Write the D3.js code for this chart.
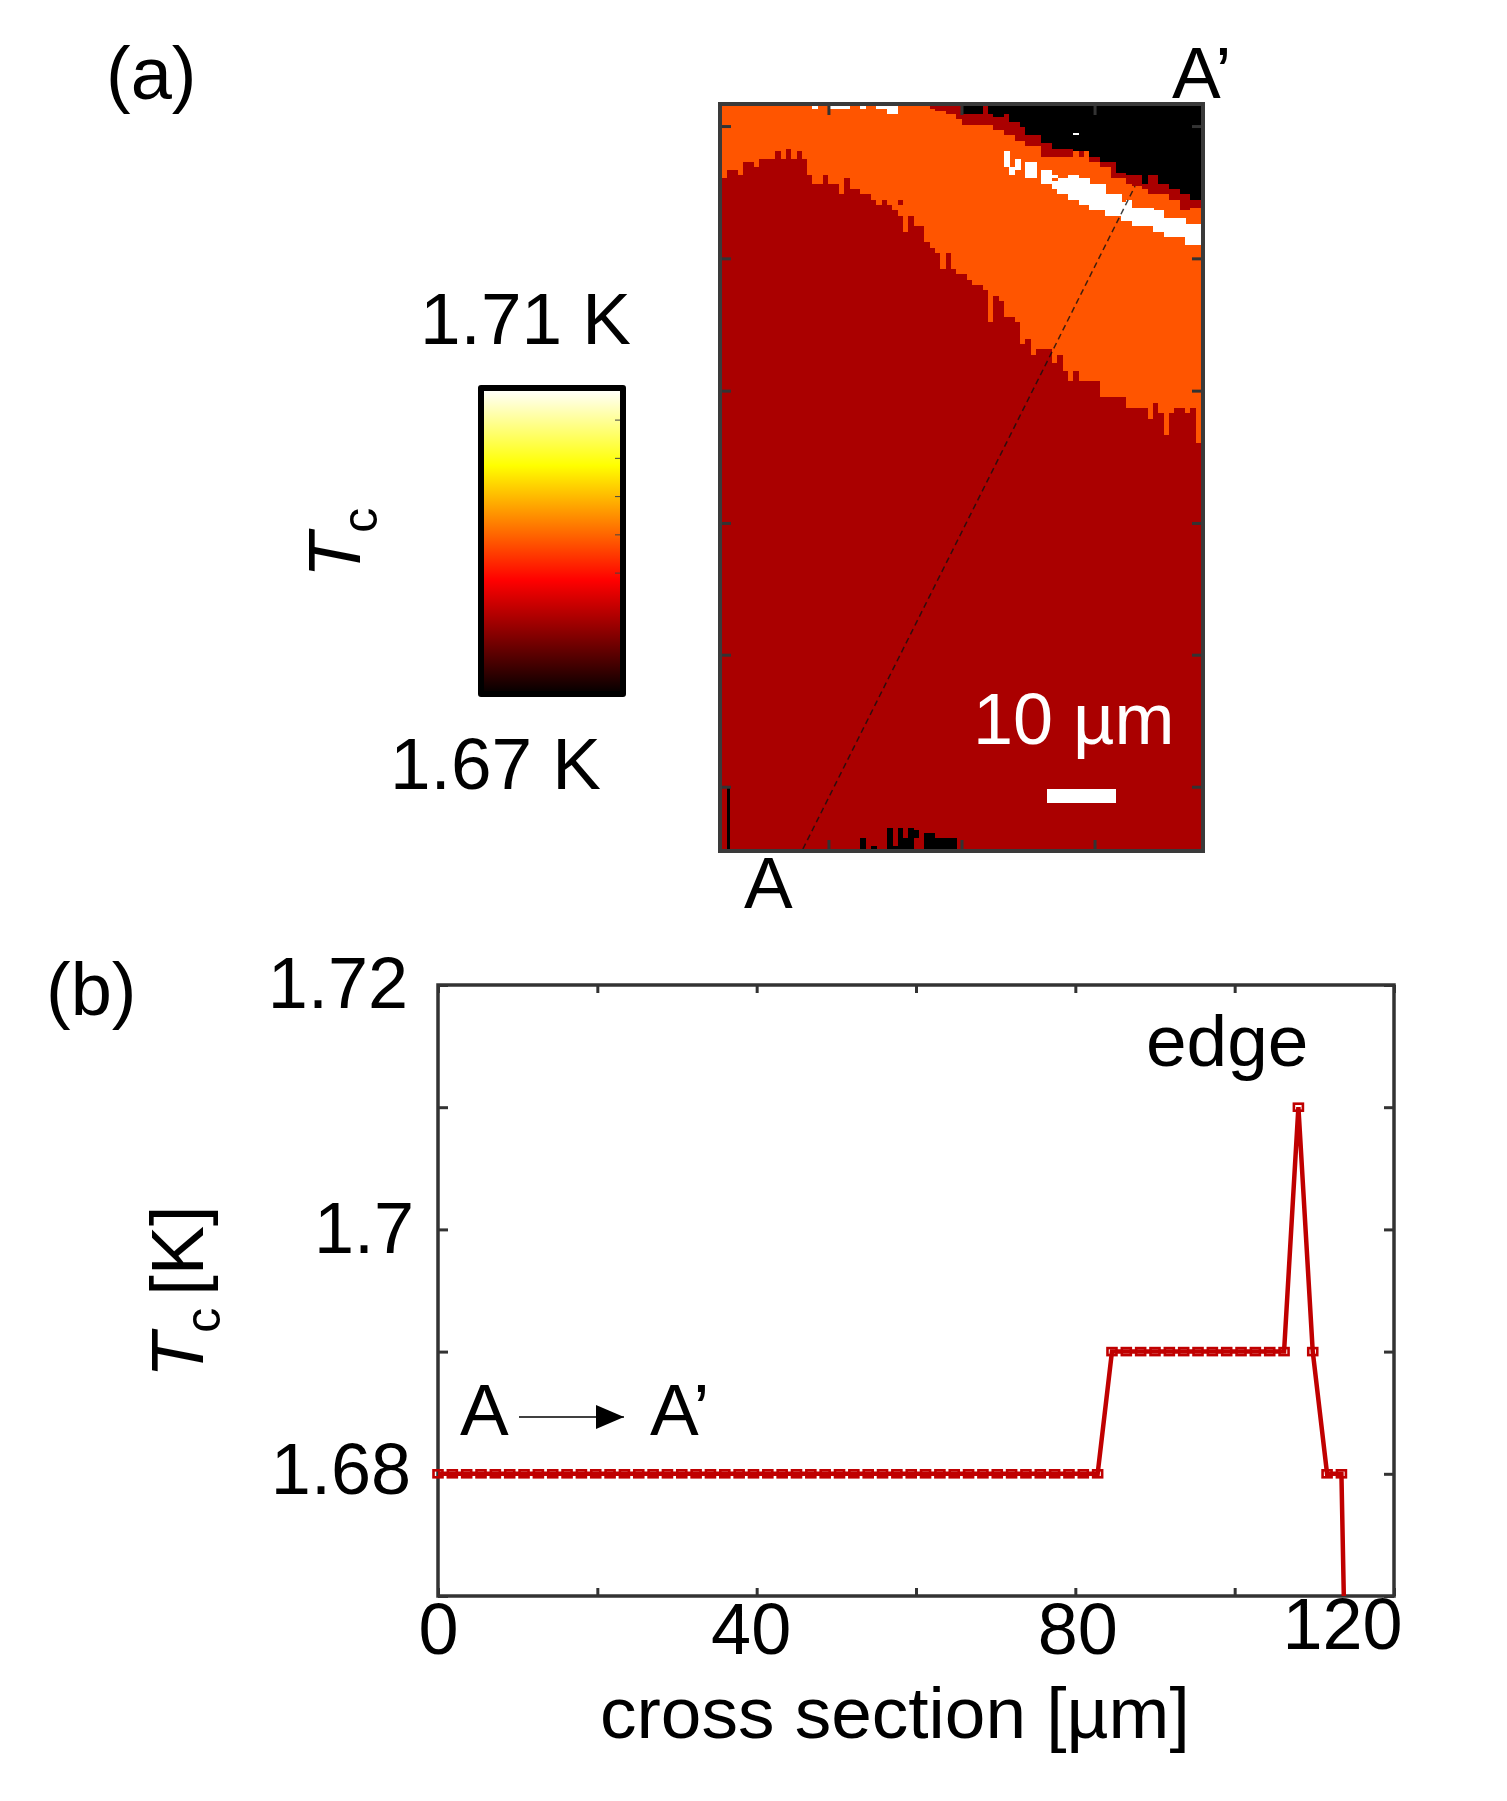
<!DOCTYPE html>
<html>
<head>
<meta charset="utf-8">
<script src="https://cdnjs.cloudflare.com/ajax/libs/d3/7.8.5/d3.min.js"></script>
<style>
    body { margin: 0; background: #fff; }
    text { font-family: "Liberation Sans", Arial, sans-serif; fill: #000; }
    .axis path { display: none; }
    .axis line { stroke: #333; stroke-width: 3; }
    .axis text { font-size: 72px; }
</style>
</head>
<body>
<div id="chart"></div>
<script>
// (a) Tc map: one value per map column, in map rows counted from the top
var mapColumns = 90, mapRows = 278;
var blackEnd = [0,0,0,0,0,0,0,0,0,0,0,0,0,0,0,0,0,0,0,0,0,0,0,0,0,0,0,0,0,0,0,0,0,0,0,0,0,0,0,0,0,0,0,0,0,
    3,3,3,3,0,3,4,4,3,6,6,8,11,11,11,14,14,16,16,16,16,17,17,17,19,19,21,21,21,25,25,26,26,26,29,26,26,29,29,31,31,33,33,35,35];
var darkEnd = [0,0,0,0,0,0,0,0,0,0,0,0,0,0,0,0,0,0,0,0,0,0,0,0,0,0,0,0,0,0,0,0,0,0,0,0,0,0,0,
    1,2,2,3,3,5,7,7,7,7,7,7,9,9,11,11,13,13,15,15,15,19,19,19,19,19,19,17,19,17,21,21,23,23,27,27,27,29,30,30,31,33,33,33,33,35,35,39,39,38,38];
var orangeEnd = [27,24,24,26,21,21,23,20,20,20,
    17,20,16,20,17,20,26,29,29,26,
    29,29,33,27,31,31,33,33,35,37,
    35,37,39,41,47,41,45,45,51,53,
    55,61,55,61,63,63,65,67,67,69,
    81,71,73,79,79,81,89,87,93,91,
    91,91,96,93,99,103,99,103,103,103,
    103,109,109,109,109,109,113,113,113,113,
    117,111,115,123,115,113,113,115,113,126];
// white band along the edge
var whiteCols = [53,54,55,57,58,60,61,62,63,64,65,66,67,68,69,70,71,72,73,74,75,76,77,78,79,80,81,82,83,84,85,86,87,88,89];
var whiteTop = [17,23,20,21,21,24,24,26,27,27,26,26,27,27,29,29,29,33,33,33,36,35,38,38,38,38,39,39,42,42,42,42,44,44,44];
var whiteBottom = [23,26,24,27,27,29,29,31,33,33,35,35,37,37,39,39,39,41,41,41,43,43,45,45,45,45,47,47,49,49,49,49,52,52,52];
// small patches: column, first row, last row, Tc
var patchCols = [17,20,21,22,23,26,29,30,31,32,33,62,66,
    26,28,31,32,33,34,35,36,38,39,40,41,42,43];
var patchTop = [0,0,0,0,0,0,0,0,0,0,35,27,10,
    274,277,270,277,270,274,270,271,272,272,274,274,274,274];
var patchBottom = [1,1,1,1,1,1,1,1,3,3,37,28,11,
    278,278,278,278,278,278,278,274,278,278,278,278,278,278];
var patchTc = [1.71,1.71,1.71,1.71,1.71,1.71,1.71,1.71,1.71,1.71,1.68,1.69,1.71,
    1.67,1.67,1.67,1.67,1.67,1.67,1.67,1.67,1.67,1.67,1.67,1.67,1.67,1.67];
var stripCol = [0.9, 1.55], stripRow = [255, 278];
var crossColumn = [15.2, 77.6], crossRow = [278, 30];
var mapRowTicks = [7.5, 57, 106.5, 156, 205.3, 254.7], mapColTicks = [20, 45, 70];

// colour bar
var tcStops = [1.67, 1.685, 1.70, 1.71];
var tcColors = ["#000000", "#ff0000", "#ffff00", "#ffffff"];
var barTicks = [1.686, 1.691, 1.696, 1.701, 1.706];

// (b) cross section
var distance = [0,1.8,3.6,5.4,7.2,9,10.8,12.6,14.4,16.2,18,19.8,21.6,23.4,25.2,27,28.8,30.6,32.4,34.2,36,37.8,39.6,41.4,43.2,45,46.8,48.6,50.4,52.2,54,55.8,57.6,59.4,61.2,63,64.8,66.6,68.4,70.2,72,73.8,75.6,77.4,79.2,81,82.8,
    84.6,86.4,88.2,90,91.8,93.6,95.4,97.2,99,100.8,102.6,104.4,106.2,108,109.8,111.6,113.4,115.2];
var tc = [1.68,1.68,1.68,1.68,1.68,1.68,1.68,1.68,1.68,1.68,1.68,1.68,1.68,1.68,1.68,1.68,1.68,1.68,1.68,1.68,1.68,1.68,1.68,1.68,1.68,1.68,1.68,1.68,1.68,1.68,1.68,1.68,1.68,1.68,1.68,1.68,1.68,1.68,1.68,1.68,1.68,1.68,1.68,1.68,1.68,1.68,1.68,
    1.69,1.69,1.69,1.69,1.69,1.69,1.69,1.69,1.69,1.69,1.69,1.69,1.69,1.71,1.69,1.68,1.68,1.62];
var xTicksMinor = [0, 20, 40, 60, 80, 100, 120];
var xTickLabels = { 0: "0", 40: "40", 80: "80", 120: "120" };
var xTickShift = { 0: 0, 40: -6, 80: 2, 120: -52 };
var xTickLift = { 0: 0, 40: 0, 80: 0, 120: -5 };
var yTicksAll = [1.67, 1.68, 1.69, 1.70, 1.71, 1.72];
var yTickLabels = { "1.68": "1.68", "1.7": "1.7", "1.72": "1.72" };
var yTickShift = { "1.68": 3, "1.7": 6, "1.72": 0 };
var yTickLift = { "1.68": -3, "1.7": 0, "1.72": -1 };

var width = 1507, height = 1801;
var map = { left: 722, right: 1201, top: 106, bottom: 849 };
var bar = { left: 482, right: 623, top: 389, bottom: 695 };
var plot = { left: 438, right: 1394, top: 985, bottom: 1596 };
var pxPerMicron = 6.9;

var svg = d3.select("#chart")
    .append("svg")
        .attr("width", width)
        .attr("height", height)
        .style("display", "block");

var defs = svg.append("defs");

var hot = d3.scaleLinear().domain(tcStops).range(tcColors);

/* ---------- (a) map ---------- */
var mapX = d3.scaleLinear().domain([0, mapColumns]).range([map.left, map.right]);
var mapY = d3.scaleLinear().domain([0, mapRows]).range([map.top, map.bottom]);

var cells = [];
d3.range(mapColumns).forEach(function(i){
    cells.push({ col: i, from: 0, to: blackEnd[i], tc: 1.67 });
    cells.push({ col: i, from: blackEnd[i], to: darkEnd[i], tc: 1.68 });
    cells.push({ col: i, from: darkEnd[i], to: orangeEnd[i], tc: 1.69 });
    cells.push({ col: i, from: orangeEnd[i], to: mapRows, tc: 1.68 });
});
whiteCols.forEach(function(c, i){
    cells.push({ col: c, from: whiteTop[i], to: whiteBottom[i], tc: 1.71 });
});
patchCols.forEach(function(c, i){
    cells.push({ col: c, from: patchTop[i], to: patchBottom[i], tc: patchTc[i] });
});

// the source bitmap is a little soft
defs.append("filter").attr("id", "soft")
    .attr("x", "-1%").attr("y", "-1%").attr("width", "102%").attr("height", "102%")
    .append("feGaussianBlur").attr("stdDeviation", 0.7);

var mapG = svg.append("g").attr("class", "map")
    .attr("shape-rendering", "crispEdges")
    .attr("filter", "url(#soft)");
mapG.selectAll("rect")
    .data(cells.filter(function(d){ return d.to > d.from; }))
    .enter()
    .append("rect")
        .attr("x", function(d){ return mapX(d.col); })
        .attr("y", function(d){ return mapY(d.from); })
        .attr("width", function(d){ return mapX(d.col + 1) - mapX(d.col) + 0.5; })
        .attr("height", function(d){ return mapY(d.to) - mapY(d.from); })
        .attr("fill", function(d){ return hot(d.tc); });

mapG.append("rect")
    .attr("x", mapX(stripCol[0]))
    .attr("y", mapY(stripRow[0]))
    .attr("width", mapX(stripCol[1]) - mapX(stripCol[0]))
    .attr("height", mapY(stripRow[1]) - mapY(stripRow[0]))
    .attr("fill", "#000");

// A - A' cut
svg.append("line")
    .attr("x1", mapX(crossColumn[0])).attr("y1", mapY(crossRow[0]))
    .attr("x2", mapX(crossColumn[1])).attr("y2", mapY(crossRow[1]))
    .attr("stroke", "#111")
    .attr("stroke-width", 1.5)
    .attr("stroke-dasharray", "6,4")
    .attr("opacity", 0.8);

svg.append("g").attr("class", "axis")
    .attr("transform", "translate(" + map.left + ",0)")
    .call(d3.axisLeft(mapY).tickValues(mapRowTicks).tickSize(-9).tickFormat(""));
svg.append("g").attr("class", "axis")
    .attr("transform", "translate(" + map.right + ",0)")
    .call(d3.axisRight(mapY).tickValues(mapRowTicks).tickSize(-9).tickFormat(""));
svg.append("g").attr("class", "axis")
    .attr("transform", "translate(0," + map.top + ")")
    .call(d3.axisTop(mapX).tickValues(mapColTicks).tickSize(-9).tickFormat(""));
svg.append("g").attr("class", "axis")
    .attr("transform", "translate(0," + map.bottom + ")")
    .call(d3.axisBottom(mapX).tickValues(mapColTicks).tickSize(-9).tickFormat(""));

svg.append("rect")
    .attr("x", map.left - 2)
    .attr("y", map.top - 2)
    .attr("width", map.right - map.left + 4)
    .attr("height", map.bottom - map.top + 4)
    .attr("fill", "none")
    .attr("stroke", "#3a3a3a")
    .attr("stroke-width", 4);

// scale bar
svg.append("rect")
    .attr("x", 1047)
    .attr("y", 789)
    .attr("width", 10 * pxPerMicron)
    .attr("height", 14)
    .attr("fill", "#fff");

addText("10 µm", 973, 744, 72).style("fill", "#fff");
addText("(a)", 106, 99, 74);
addText("A’", 1172, 98, 73);
addText("A", 744, 908, 73);
addText("1.71 K", 420, 344, 73);
addText("1.67 K", 390, 789, 73);

/* ---------- colour bar ---------- */
var barY = d3.scaleLinear().domain([1.67, 1.71]).range([bar.bottom, bar.top]);
var grad = defs.append("linearGradient")
    .attr("id", "hotGrad")
    .attr("x1", 0).attr("y1", 1).attr("x2", 0).attr("y2", 0);
grad.selectAll("stop")
    .data(tcStops)
    .enter()
    .append("stop")
        .attr("offset", function(d){ return (d - 1.67) / 0.04; })
        .attr("stop-color", function(d){ return hot(d); });

svg.append("rect")
    .attr("x", bar.left)
    .attr("y", bar.top)
    .attr("width", bar.right - bar.left)
    .attr("height", bar.bottom - bar.top)
    .attr("fill", "url(#hotGrad)");

svg.append("g")
    .attr("transform", "translate(" + bar.right + ",0)")
    .call(d3.axisRight(barY).tickValues(barTicks).tickSize(-8).tickFormat(""))
    .call(function(g){
        g.select(".domain").remove();
        g.selectAll("line").attr("stroke", "#444").attr("stroke-width", 1);
    });

svg.append("rect")
    .attr("x", bar.left - 1)
    .attr("y", bar.top - 1)
    .attr("width", bar.right - bar.left + 1)
    .attr("height", bar.bottom - bar.top + 0)
    .attr("fill", "none")
    .attr("stroke", "#000")
    .attr("stroke-width", 6)
    .attr("stroke-linejoin", "round");

rotatedTc(360, 578);

/* ---------- (b) profile ---------- */
var x = d3.scaleLinear().domain([0, 120]).range([plot.left, plot.right]);
var y = d3.scaleLinear().domain([1.67, 1.72]).range([plot.bottom, plot.top]);

svg.append("g").attr("class", "axis")
    .attr("transform", "translate(0," + plot.top + ")")
    .call(d3.axisTop(x).tickValues(xTicksMinor).tickSize(-8).tickFormat(""));
var xAxis = svg.append("g").attr("class", "axis")
    .attr("transform", "translate(0," + plot.bottom + ")")
    .call(d3.axisBottom(x).tickValues(xTicksMinor).tickSize(-8).tickPadding(7)
        .tickFormat(function(d){ return xTickLabels[d] || ""; }));
xAxis.selectAll("text")
    .attr("transform", function(d){ return "translate(" + (xTickShift[d] || 0) + "," + (xTickLift[d] || 0) + ")"; });

svg.append("g").attr("class", "axis")
    .attr("transform", "translate(" + plot.right + ",0)")
    .call(d3.axisRight(y).tickValues(yTicksAll).tickSize(-10).tickFormat(""));
var yAxis = svg.append("g").attr("class", "axis")
    .attr("transform", "translate(" + plot.left + ",0)")
    .call(d3.axisLeft(y).tickValues(yTicksAll).tickSize(-10).tickPadding(30)
        .tickFormat(function(d){ return yTickLabels[String(+d.toFixed(2))] || ""; }));
yAxis.selectAll("text")
    .attr("transform", function(d){
        var k = String(+d.toFixed(2));
        return "translate(" + (yTickShift[k] || 0) + "," + (yTickLift[k] || 0) + ")";
    });

svg.append("rect")
    .attr("x", plot.left)
    .attr("y", plot.top)
    .attr("width", plot.right - plot.left)
    .attr("height", plot.bottom - plot.top)
    .attr("fill", "none")
    .attr("stroke", "#333")
    .attr("stroke-width", 3.5);

defs.append("clipPath").attr("id", "plotClip")
    .append("rect")
        .attr("x", plot.left - 20)
        .attr("y", plot.top)
        .attr("width", plot.right - plot.left + 40)
        .attr("height", plot.bottom - plot.top);

var series = distance.map(function(d, i){ return { x: d, y: tc[i] }; });
var line = d3.line()
    .x(function(d){ return x(d.x); })
    .y(function(d){ return y(d.y); });

var seriesG = svg.append("g").attr("clip-path", "url(#plotClip)");
seriesG.append("path")
    .datum(series)
    .attr("d", line)
    .attr("fill", "none")
    .attr("stroke", "#c00000")
    .attr("stroke-width", 4.5);
seriesG.selectAll("rect")
    .data(series)
    .enter()
    .append("rect")
        .attr("x", function(d){ return x(d.x) - 4.5; })
        .attr("y", function(d){ return y(d.y) - 3.5; })
        .attr("width", 9)
        .attr("height", 7)
        .attr("fill", "none")
        .attr("stroke", "#c00000")
        .attr("stroke-width", 2.6);

addText("(b)", 46, 1015, 74);
addText("edge", 1146, 1066, 73);
addText("A", 460, 1435, 73);
addText("A’", 650, 1435, 73);

// A -> A' arrow
defs.append("marker")
    .attr("id", "arrowHead")
    .attr("markerUnits", "userSpaceOnUse")
    .attr("markerWidth", 28).attr("markerHeight", 24)
    .attr("refX", 28).attr("refY", 12)
    .attr("orient", "auto")
    .append("path")
        .attr("d", "M0,0L28,12L0,24Z")
        .attr("fill", "#000");
svg.append("line")
    .attr("x1", 519).attr("y1", 1417)
    .attr("x2", 624).attr("y2", 1417)
    .attr("stroke", "#000")
    .attr("stroke-width", 1.6)
    .attr("marker-end", "url(#arrowHead)");

addText("cross section [µm]", 600, 1738, 73);
rotatedTc(203, 1378, "[K]");

function addText(s, px, py, size){
    return svg.append("text")
        .attr("x", px)
        .attr("y", py)
        .style("font-size", size + "px")
        .text(s);
}

function rotatedTc(px, py, tail){
    var t = svg.append("text")
        .attr("transform", "translate(" + px + "," + py + ") rotate(-90)")
        .style("font-size", "74px");
    t.append("tspan").style("font-style", "italic").text("T");
    t.append("tspan").attr("dy", 17).style("font-size", "50px").text("c");
    if (tail) t.append("tspan").attr("dy", -17).attr("dx", 12).text(tail);
}
</script>
</body>
</html>
